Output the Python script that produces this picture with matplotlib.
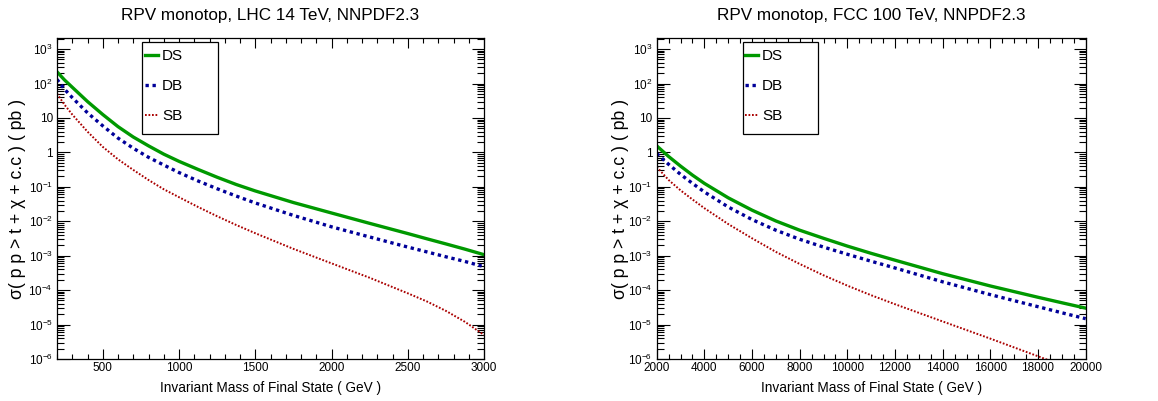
import numpy as np
import matplotlib
matplotlib.use("Agg")
import matplotlib.pyplot as plt
from matplotlib.patches import Rectangle
from matplotlib.ticker import FixedLocator, LogLocator, MultipleLocator, FuncFormatter, NullFormatter

plt.rcParams['font.family'] = ['Liberation Sans', 'DejaVu Sans']
plt.rcParams['mathtext.default'] = 'regular'

# LHC 14 TeV (pb)
mass_lhc = [200, 250, 300, 400, 500, 600, 700, 800, 900, 1000, 1125, 1250, 1375, 1500, 1750, 2000, 2250, 2500, 2625, 2750, 2875, 3000]
ds_lhc = [219, 126, 78, 30, 12.6, 5.6, 2.8, 1.55, 0.89, 0.55, 0.32, 0.19, 0.117, 0.076, 0.035, 0.0174, 0.0087, 0.0044, 0.0031, 0.0022, 0.00155, 0.00107]
db_lhc = [132, 68, 39, 14.1, 5.9, 2.6, 1.32, 0.72, 0.43, 0.26, 0.148, 0.088, 0.054, 0.034, 0.0148, 0.0069, 0.0035, 0.00178, 0.00129, 0.00093, 0.00068, 0.00048]
sb_lhc = [51, 24, 12.6, 4.0, 1.45, 0.63, 0.31, 0.158, 0.085, 0.050, 0.026, 0.0140, 0.0078, 0.0045, 0.00158, 0.0006, 0.000229, 8.1e-5, 4.7e-5, 2.5e-5, 1.2e-5, 5.0e-6]

# FCC 100 TeV
mass_fcc = [2000, 2500, 3000, 3500, 4000, 5000, 6000, 7000, 8000, 9000, 10000, 11000, 12000, 14000, 16000, 18000, 19000, 20000]
ds_fcc = [1.55, 0.76, 0.40, 0.219, 0.126, 0.048, 0.021, 0.0102, 0.0055, 0.0032, 0.0019, 0.00117, 7.4e-4, 3.0e-4, 1.32e-4, 6.2e-5, 4.3e-5, 3.0e-5]
db_fcc = [0.93, 0.45, 0.23, 0.126, 0.071, 0.026, 0.0112, 0.0055, 0.0030, 0.00178, 0.0011, 6.9e-4, 4.4e-4, 1.74e-4, 7.4e-5, 3.3e-5, 2.2e-5, 1.48e-5]
sb_fcc = [0.38, 0.158, 0.079, 0.043, 0.024, 0.0083, 0.0032, 0.00129, 5.75e-4, 2.7e-4, 1.35e-4, 7.1e-5, 3.9e-5, 1.23e-5, 3.9e-6, 1.2e-6, 6.6e-7, 3.5e-7]

titles = ["RPV monotop, LHC 14 TeV, NNPDF2.3", "RPV monotop, FCC 100 TeV, NNPDF2.3"]


def ylab(v, pos):
    if abs(v - 1) < 1e-9:
        return "1"
    if abs(v - 10) < 1e-9:
        return "10"
    return "$10^{%d}$" % int(round(np.log10(v)))


fig = plt.figure(figsize=(11.58, 4.01), dpi=100)
ax1 = fig.add_axes([57 / 1158, 42 / 401, 427 / 1158, 321 / 401])
ax2 = fig.add_axes([656.7 / 1158, 42 / 401, 429 / 1158, 321 / 401])

panels = [
    (ax1, mass_lhc, ds_lhc, db_lhc, sb_lhc, (200, 3000), 500, 100, -0.073),
    (ax2, mass_fcc, ds_fcc, db_fcc, sb_fcc, (2000, 20000), 2000, 500, -0.065),
]

for i, (ax, m, ds, db, sb, xl, maj, mnr, lx) in enumerate(panels):
    ax.plot(m, ds, color="#009900", lw=2.4, label="DS")
    ax.plot(m, db, color="#000099", lw=2.4, linestyle=(0, (1, 1.1)), dash_capstyle="butt", label="DB")
    ax.plot(m, sb, color="#aa0000", lw=1.4, linestyle=(0, (0.9, 0.9)), dash_capstyle="butt", label="SB")
    ax.set_yscale("log")
    ax.set_xlim(*xl)
    ax.set_ylim(1e-6, 2.1e3)
    ax.xaxis.set_major_locator(MultipleLocator(maj))
    ax.xaxis.set_minor_locator(MultipleLocator(mnr))
    ax.yaxis.set_major_locator(FixedLocator([10.0 ** k for k in range(-6, 4)]))
    ax.yaxis.set_minor_locator(LogLocator(base=10, subs=np.arange(2, 10), numticks=30))
    ax.yaxis.set_major_formatter(FuncFormatter(ylab))
    ax.yaxis.set_minor_formatter(NullFormatter())
    ax.tick_params(which="both", direction="in", top=True, right=True, labelsize=8.5, width=0.8)
    ax.tick_params(axis="x", which="major", length=7, pad=2.5)
    ax.tick_params(axis="x", which="minor", length=3.5)
    ax.tick_params(axis="y", which="major", length=9, pad=3)
    ax.tick_params(axis="y", which="minor", length=5)
    for s in ax.spines.values():
        s.set_linewidth(0.9)
    ax.set_title(titles[i], fontsize=12.3, pad=13)
    ax.set_xlabel("Invariant Mass of Final State ( GeV )", fontsize=9.8, labelpad=5)
    ax.set_ylabel("σ( p p > t + χ + c.c ) ( pb )", fontsize=12.7)
    ax.yaxis.set_label_coords(lx, 0.5)

    # legend box drawn like the ROOT TLegend
    ax.add_patch(Rectangle((0.2, 0.701), 0.176, 0.287, transform=ax.transAxes,
                           facecolor="white", edgecolor="black", lw=0.9, zorder=5))
    leg = ax.legend(loc="upper left", bbox_to_anchor=(0.205, 0.965), borderaxespad=0,
                    frameon=False, fontsize=11, handlelength=0.85, handletextpad=0.3,
                    labelspacing=1.05, borderpad=0)
    leg.set_zorder(6)

fig.savefig("out.png", dpi=100)
